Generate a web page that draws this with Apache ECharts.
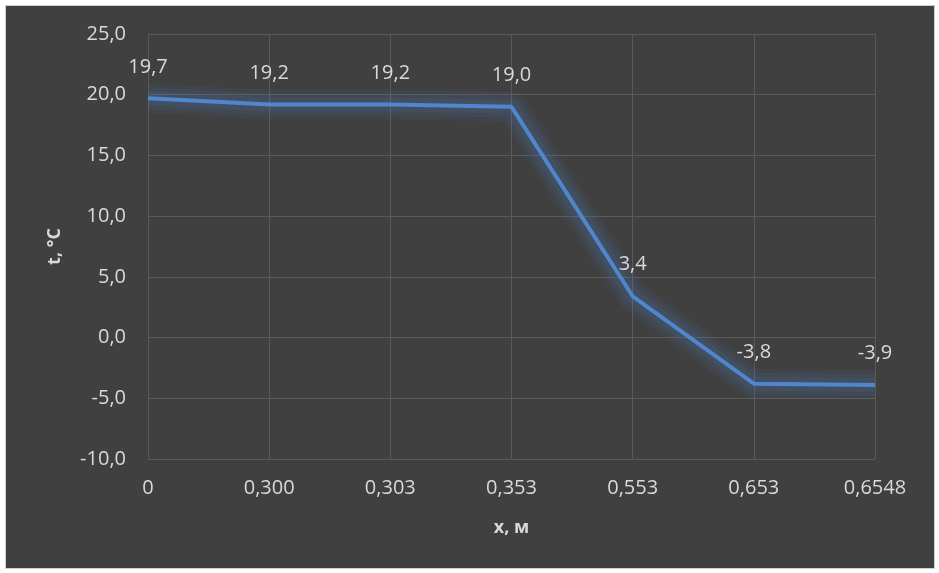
<!DOCTYPE html>
<html><head><meta charset="utf-8">
<script src="https://cdn.jsdelivr.net/npm/echarts@6/dist/echarts.min.js"></script>
<style>
html,body{margin:0;padding:0;background:#fff;}
#wrap{position:absolute;left:5px;top:5px;width:928px;height:562px;border:1px solid #d0d0d0;background:#404040;}
#chart{width:928px;height:562px;}
</style></head>
<body><div id="wrap"><div id="chart"></div></div>
<script>
var categories = ['0', '0,300', '0,303', '0,353', '0,553', '0,653', '0,6548'];
var temps = [19.7, 19.2, 19.2, 19.0, 3.4, -3.8, -3.9];
var yTicks = {min: -10, max: 25, interval: 5};

var chart = echarts.init(document.getElementById('chart'));
var font = 'Open Sans, Noto Sans, sans-serif';
var fmt = function (v) { return v.toFixed(1).replace('.', ','); };
function glow(w, a) {
  return {
    type: 'line', data: temps, symbol: 'none', silent: true, z: 1,
    lineStyle: {color: 'rgba(79,134,214,' + a + ')', width: w, join: 'round', cap: 'butt'}
  };
}
chart.setOption({
  backgroundColor: '#404040',
  animation: false,
  grid: {left: 142, right: 59, top: 28, bottom: 109},
  xAxis: {
    type: 'category', data: categories, boundaryGap: false,
    axisLine: {show: false}, axisTick: {show: false},
    axisLabel: {color: '#d9d9d9', fontSize: 20, fontFamily: font, margin: 19},
    splitLine: {show: true, lineStyle: {color: '#5a5a5a', width: 1}},
    name: 'x, м', nameLocation: 'middle', nameGap: 60,
    nameTextStyle: {color: '#d9d9d9', fontSize: 18, fontWeight: 'bold', fontFamily: font}
  },
  yAxis: {
    type: 'value', min: yTicks.min, max: yTicks.max, interval: yTicks.interval,
    axisLine: {show: false}, axisTick: {show: false},
    axisLabel: {color: '#d9d9d9', fontSize: 20, fontFamily: font, margin: 22, formatter: fmt},
    splitLine: {lineStyle: {color: '#5a5a5a', width: 1}},
    name: 't, °C', nameLocation: 'middle', nameGap: 84,
    nameTextStyle: {color: '#d9d9d9', fontSize: 18, fontWeight: 'bold', fontFamily: font}
  },
  series: [glow(30, 0.06), glow(22, 0.08), glow(14, 0.1), {
    type: 'line', data: temps, symbol: 'circle', symbolSize: 1, showSymbol: true, z: 2,
    itemStyle: {color: 'transparent', borderWidth: 0},
    lineStyle: {color: '#4f86cc', width: 4},
    label: {show: true, position: 'top', distance: 21, color: '#d9d9d9', fontSize: 20, fontFamily: font,
      formatter: function (p) { return fmt(p.value); }}
  }]
});
</script></body></html>
